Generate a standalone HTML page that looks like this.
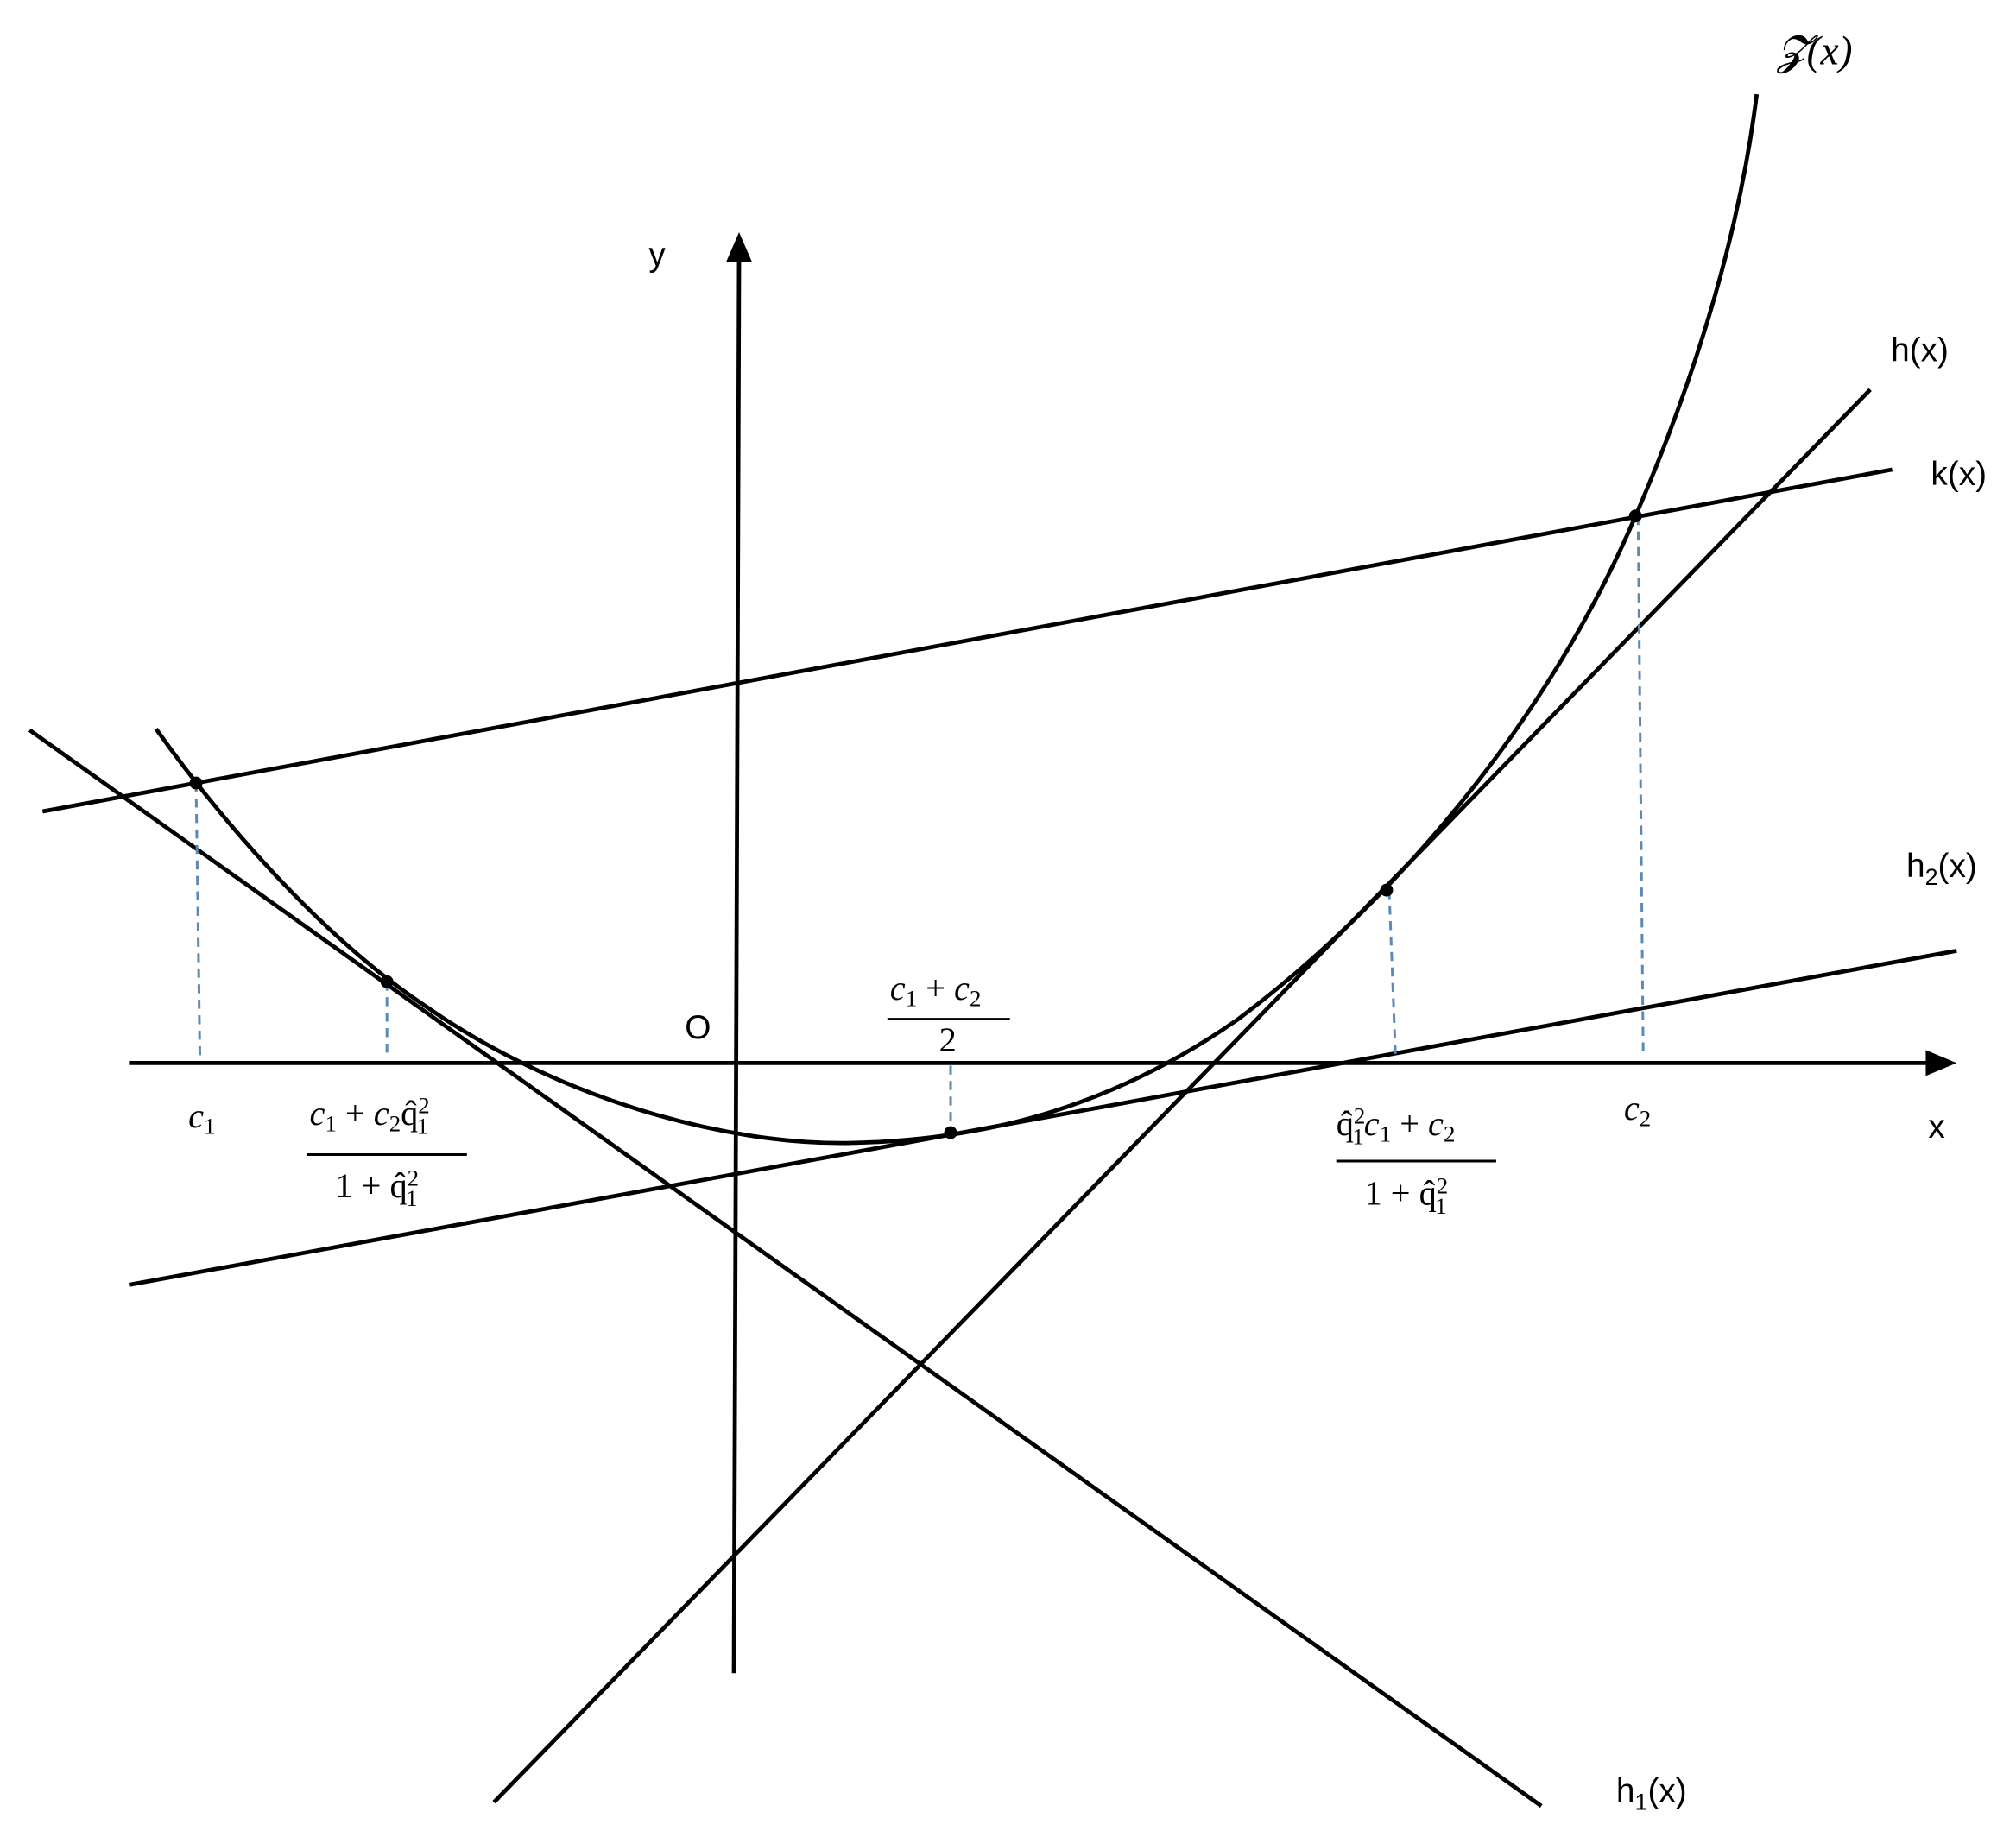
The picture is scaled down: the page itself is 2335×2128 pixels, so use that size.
<!DOCTYPE html>
<html><head><meta charset="utf-8"><style>
html,body{margin:0;padding:0;background:#fff;}
svg{display:block;}
text{font-family:"Liberation Sans",sans-serif;fill:#000;}
.m{font-family:"Liberation Serif",serif;}
</style></head><body>
<svg width="2335" height="2128" viewBox="0 0 1563 1424" preserveAspectRatio="none" xmlns="http://www.w3.org/2000/svg">
<g stroke="#000" stroke-width="3.2" fill="none" stroke-linecap="butt">
<line x1="100" y1="824" x2="1500" y2="824"/>
<line x1="573" y1="195" x2="569" y2="1297"/>
<line x1="33" y1="629" x2="1467" y2="364"/>
<line x1="383" y1="1397" x2="1450" y2="302"/>
<line x1="23" y1="566" x2="1195" y2="1400"/>
<line x1="100" y1="996" x2="1517" y2="737"/>
<path d="M121,565 C160,620 240,720 330,780 C430,850 560,888 660,886 C760,884 860,860 960,790 C1080,700 1200,560 1268,400 C1320,280 1350,170 1362,73"/>
</g>
<polygon points="1517,824 1493,814 1493,834" fill="#000"/>
<polygon points="573,180 563,203 583,203" fill="#000"/>
<g stroke="#5b8ab8" stroke-width="2" stroke-dasharray="7,5">
<line x1="152" y1="607" x2="155" y2="820"/>
<line x1="300" y1="761" x2="300" y2="820"/>
<line x1="737" y1="826" x2="737" y2="878"/>
<line x1="1077" y1="690" x2="1082" y2="820"/>
<line x1="1270" y1="400" x2="1274" y2="820"/>
</g>
<g fill="#000">
<circle cx="152" cy="607" r="5"/><circle cx="300" cy="761" r="5"/>
<circle cx="737" cy="878" r="5"/><circle cx="1075" cy="690" r="5"/>
<circle cx="1268" cy="400" r="5"/>
</g>
<text x="503" y="206" font-size="26">y</text>
<text x="531" y="805" font-size="26">O</text>
<text x="1495" y="882" font-size="26">x</text>
<text x="1378" y="50" font-size="32" class="m" font-style="italic">𝓩(x)</text>
<text x="1466" y="280" font-size="26">h(x)</text>
<text x="1497" y="376" font-size="26">k(x)</text>
<text x="1478" y="680" font-size="26">h<tspan font-size="18" dy="6">2</tspan><tspan dy="-6">(x)</tspan></text>
<text x="1253" y="1397" font-size="26">h<tspan font-size="18" dy="6">1</tspan><tspan dy="-6">(x)</tspan></text>
<g font-size="27">
<text x="146" y="874" class="m" font-style="italic">c<tspan font-size="18" dy="5" font-style="normal">1</tspan></text>
<text x="1259" y="868" class="m" font-style="italic">c<tspan font-size="18" dy="5" font-style="normal">2</tspan></text>
<text x="240" y="872" class="m"><tspan font-style="italic">c</tspan><tspan font-size="18" dy="5">1</tspan><tspan dy="-5"> + </tspan><tspan font-style="italic">c</tspan><tspan font-size="18" dy="5">2</tspan><tspan dy="-5">q̂</tspan><tspan font-size="18" dy="-9">2</tspan><tspan font-size="18" dx="-10" dy="16">1</tspan></text>
<line x1="238" y1="895" x2="362" y2="895" stroke="#000" stroke-width="2"/>
<text x="260" y="928" class="m">1 + q̂<tspan font-size="18" dy="-9">2</tspan><tspan font-size="18" dx="-10" dy="16">1</tspan></text>
<text x="690" y="775" class="m"><tspan font-style="italic">c</tspan><tspan font-size="18" dy="5">1</tspan><tspan dy="-5"> + </tspan><tspan font-style="italic">c</tspan><tspan font-size="18" dy="5">2</tspan></text>
<line x1="688" y1="790" x2="783" y2="790" stroke="#000" stroke-width="2"/>
<text x="728" y="815" class="m">2</text>
<text x="1036" y="880" class="m">q̂<tspan font-size="18" dy="-9">2</tspan><tspan font-size="18" dx="-10" dy="16">1</tspan><tspan font-style="italic" dy="-7">c</tspan><tspan font-size="18" dy="5">1</tspan><tspan dy="-5"> + </tspan><tspan font-style="italic">c</tspan><tspan font-size="18" dy="5">2</tspan></text>
<line x1="1036" y1="900" x2="1160" y2="900" stroke="#000" stroke-width="2"/>
<text x="1058" y="934" class="m">1 + q̂<tspan font-size="18" dy="-9">2</tspan><tspan font-size="18" dx="-10" dy="16">1</tspan></text>
</g>
</svg>
</body></html>
